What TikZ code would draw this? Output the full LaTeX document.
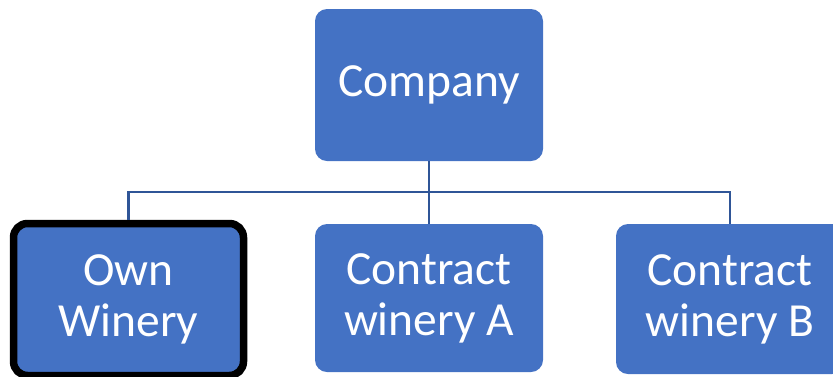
\documentclass[tikz,border=0pt]{standalone}
\usepackage{fontspec}
\setmainfont{Carlito}
\definecolor{boxblue}{HTML}{4472C4}
\definecolor{linkblue}{HTML}{2F5597}
\begin{document}
\begin{tikzpicture}[x=1pt,y=-1pt,
  orgbox/.style={rectangle, rounded corners=12pt, fill=boxblue, draw=none,
    minimum width=228pt, text=white, align=center, inner sep=0pt,
    font=\fontsize{47.5}{51}\selectfont},
  link/.style={draw=linkblue, line width=2.6pt}]
\useasboundingbox (0,0) rectangle (833,376);
\node[orgbox, minimum height=152pt] (comp) at (429,85) {Company};
\node[orgbox, minimum width=230pt, minimum height=152pt, draw=black, line width=7.5pt, rounded corners=14pt] (own) at (128.5,299.5) {Own\\Winery};
\node[orgbox, minimum height=148pt] (conA) at (429,298) {Contract\\winery A};
\node[orgbox, minimum height=150pt] (conB) at (730,299) {Contract\\winery B};
\coordinate (bus) at (429,192);
\draw[link] (comp.south) -- (bus);
\draw[link] (bus) -| (own.north);
\draw[link] (bus) -- (conA.north);
\draw[link] (bus) -| (conB.north);
\end{tikzpicture}
\end{document}
